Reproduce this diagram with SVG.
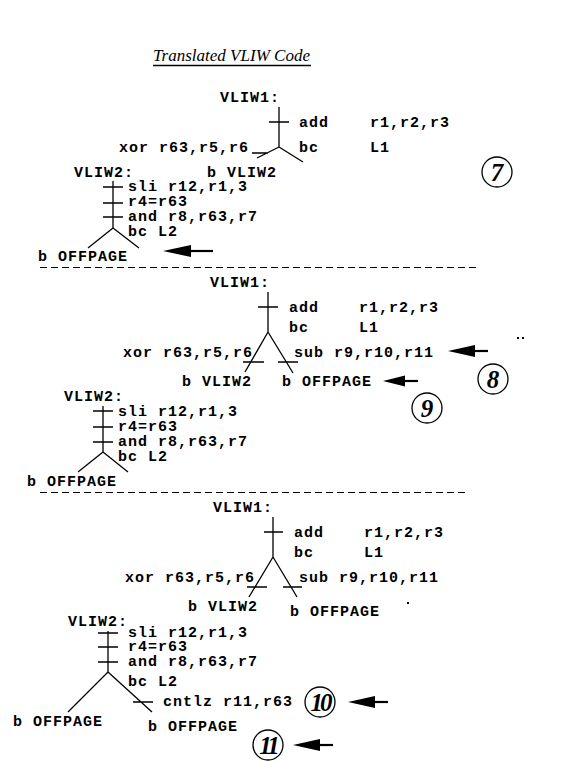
<svg xmlns="http://www.w3.org/2000/svg" width="563" height="772" viewBox="0 0 563 772">
<defs>
<style>
.t{font-family:"Liberation Mono","DejaVu Sans Mono",monospace;font-weight:bold;font-size:15px;letter-spacing:1px;fill:#000}
.ln{stroke:#000;stroke-width:1.3;fill:none}
.ds{stroke:#000;stroke-width:1.2;stroke-dasharray:7 4;fill:none}
.c{fill:#fff;stroke:#000;stroke-width:1.3}
.n{font-family:"Liberation Serif","DejaVu Serif",serif;font-style:italic;font-weight:bold;font-size:25px;fill:#000;text-anchor:middle}
.sh{stroke:#000;stroke-width:2.2;fill:none}
.hd{fill:#000}
</style>
</defs>
<rect width="563" height="772" fill="#fff"/>

<g id="title">
<text x="153" y="61" font-family="Liberation Serif, serif" font-style="italic" font-size="16" textLength="157" lengthAdjust="spacingAndGlyphs">Translated VLIW Code</text>
<line class="ln" x1="153" y1="65.5" x2="311" y2="65.5"/>
</g>

<!-- Section 7 -->
<g id="s7-vliw1">
<text class="t" x="220" y="102">VLIW1:</text>
<path class="ln" d="M279,107V147M269,122H289M279,147L257,158M279,147L303,162M252,153H268"/>
<text class="t" x="299" y="127">add</text>
<text class="t" x="370" y="127">r1,r2,r3</text>
<text class="t" x="299" y="152">bc</text>
<text class="t" x="370" y="152">L1</text>
<text class="t" x="119" y="152">xor r63,r5,r6</text>
<text class="t" x="207" y="177">b VLIW2</text>
</g>
<g id="s7-vliw2">
<text class="t" x="74" y="177">VLIW2:</text>
<path class="ln" d="M113,181V228M103,187H123M103,203H123M103,217H123M113,228L88,248M113,228L139,248"/>
<text class="t" x="128" y="191">sli r12,r1,3</text>
<text class="t" x="128" y="206">r4=r63</text>
<text class="t" x="128" y="221">and r8,r63,r7</text>
<text class="t" x="128" y="236">bc L2</text>
<text class="t" x="38" y="261">b OFFPAGE</text>
</g>
<g id="n7"><circle class="c" cx="497" cy="172" r="15"/><text class="n" x="497" y="181">7</text></g>
<line class="ds" x1="40" y1="267.5" x2="476" y2="267.5"/>

<!-- Section 8/9 -->
<g id="s8-vliw1">
<text class="t" x="210" y="287">VLIW1:</text>
<path class="ln" d="M268,292V332M258,307H278M268,332L245,372M268,332L293,373M243,362H264M278,362H298"/>
<text class="t" x="289" y="312">add</text>
<text class="t" x="359" y="312">r1,r2,r3</text>
<text class="t" x="289" y="332">bc</text>
<text class="t" x="359" y="332">L1</text>
<text class="t" x="123" y="357">xor r63,r5,r6</text>
<text class="t" x="294" y="357">sub r9,r10,r11</text>
<text class="t" x="182" y="386">b VLIW2</text>
<text class="t" x="282" y="386">b OFFPAGE</text>
</g>
<g id="s8-vliw2">
<text class="t" x="64" y="401">VLIW2:</text>
<path class="ln" d="M103,406V452M93,411H113M93,427H113M93,442H113M103,452L78,472M103,452L128,472"/>
<text class="t" x="118" y="416">sli r12,r1,3</text>
<text class="t" x="118" y="431">r4=r63</text>
<text class="t" x="118" y="446">and r8,r63,r7</text>
<text class="t" x="118" y="461">bc L2</text>
<text class="t" x="27" y="486">b OFFPAGE</text>
</g>
<g id="n8"><circle class="c" cx="493" cy="379" r="15"/><text class="n" x="493" y="388">8</text></g>
<g id="n9"><circle class="c" cx="427" cy="408" r="15"/><text class="n" x="427" y="417">9</text></g>
<g id="dots"><rect x="517" y="337" width="2" height="2"/><rect x="522" y="337" width="2" height="2"/><rect x="407" y="602" width="2" height="2"/></g>
<line class="ds" x1="40" y1="492.5" x2="467" y2="492.5"/>

<!-- Section 10/11 -->
<g id="s10-vliw1">
<text class="t" x="213" y="512">VLIW1:</text>
<path class="ln" d="M273,517V557M264,532H283M273,557L249,597M273,557L297,597M247,587H267M283,587H302"/>
<text class="t" x="294" y="537">add</text>
<text class="t" x="364" y="537">r1,r2,r3</text>
<text class="t" x="294" y="557">bc</text>
<text class="t" x="364" y="557">L1</text>
<text class="t" x="125" y="582">xor r63,r5,r6</text>
<text class="t" x="299" y="582">sub r9,r10,r11</text>
<text class="t" x="188" y="611">b VLIW2</text>
<text class="t" x="290" y="616">b OFFPAGE</text>
</g>
<g id="s10-vliw2">
<text class="t" x="68" y="626">VLIW2:</text>
<path class="ln" d="M108,631V672M98,633H118M98,647H118M98,662H118M108,672L68,712M108,672L152,712M133,702H153"/>
<text class="t" x="128" y="637">sli r12,r1,3</text>
<text class="t" x="128" y="651">r4=r63</text>
<text class="t" x="128" y="666">and r8,r63,r7</text>
<text class="t" x="128" y="686">bc L2</text>
<text class="t" x="163" y="706">cntlz r11,r63</text>
<text class="t" x="13" y="726">b OFFPAGE</text>
<text class="t" x="148" y="731">b OFFPAGE</text>
</g>
<g id="n10"><circle class="c" cx="320" cy="702" r="15"/><text class="n" x="320" y="711" font-size="23" letter-spacing="-3">10</text></g>
<g id="n11"><circle class="c" cx="268" cy="745" r="15"/><text class="n" x="268" y="754" font-size="23" letter-spacing="-3">11</text></g>

<g id="connectors">
<line class="sh" x1="186" y1="251" x2="213" y2="251"/><polygon class="hd" points="163,251 191,245 191,257"/>
<line class="sh" x1="470" y1="351" x2="488" y2="351"/><polygon class="hd" points="448,351 475,345 475,357"/>
<line class="sh" x1="400" y1="381" x2="418" y2="381"/><polygon class="hd" points="383,381 405,375.5 405,386.5"/>
<line class="sh" x1="370" y1="702" x2="388" y2="702"/><polygon class="hd" points="348,702 375,696 375,708"/>
<line class="sh" x1="315" y1="745" x2="333" y2="745"/><polygon class="hd" points="293,745 320,739 320,751"/>
</g>
</svg>
